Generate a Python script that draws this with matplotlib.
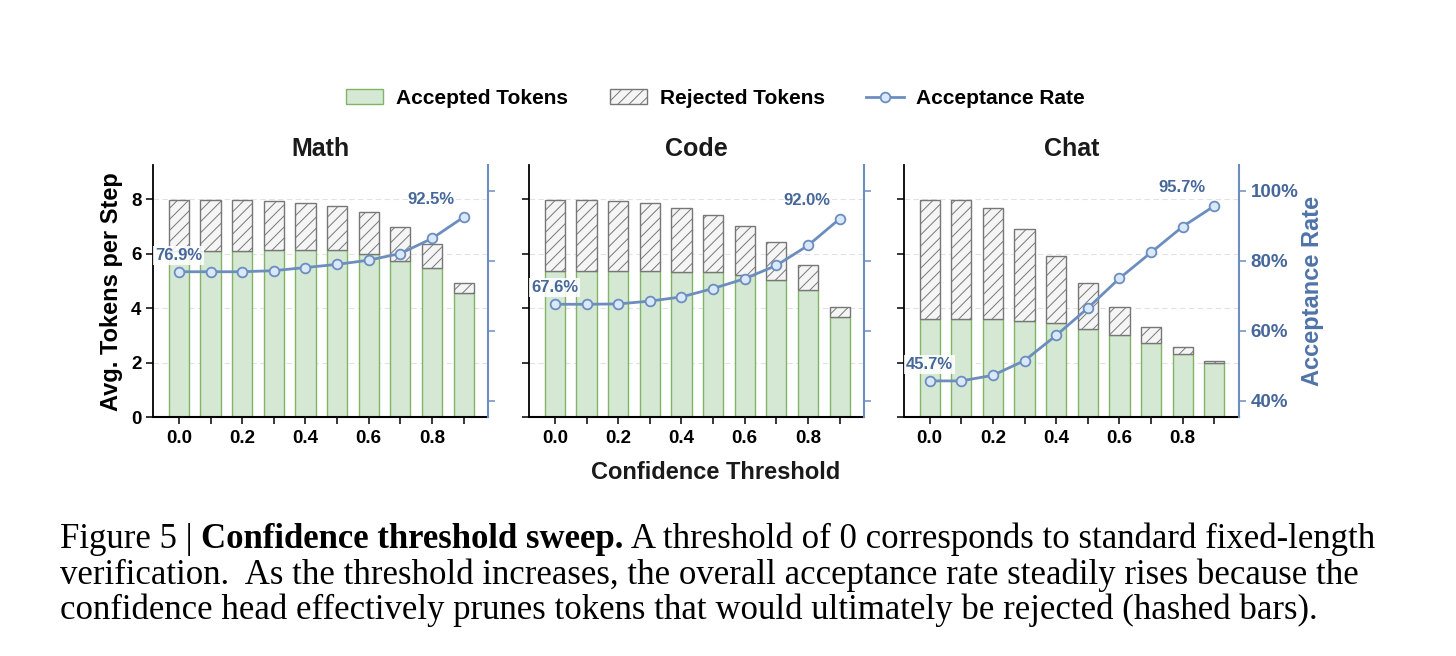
import matplotlib
matplotlib.use("Agg")
import matplotlib.pyplot as plt
import numpy as np
from matplotlib.patches import Patch

plt.rcParams['font.family'] = ['Liberation Sans', 'DejaVu Sans']

# ---------------- data ----------------
thresholds = [0.0, 0.1, 0.2, 0.3, 0.4, 0.5, 0.6, 0.7, 0.8, 0.9]
panel_titles = ["Math", "Code", "Chat"]

math_accepted = [6.11, 6.10, 6.10, 6.12, 6.12, 6.12, 6.00, 5.74, 5.47, 4.55]
math_rejected = [1.84, 1.85, 1.85, 1.82, 1.75, 1.64, 1.51, 1.24, 0.88, 0.37]
math_rate = [76.9, 76.9, 76.9, 77.2, 78.1, 79.0, 80.2, 82.1, 86.4, 92.5]

code_accepted = [5.37, 5.36, 5.36, 5.35, 5.33, 5.31, 5.22, 5.04, 4.67, 3.69]
code_rejected = [2.58, 2.59, 2.58, 2.52, 2.35, 2.12, 1.78, 1.38, 0.90, 0.35]
code_rate = [67.6, 67.6, 67.7, 68.5, 69.7, 72.1, 74.9, 78.7, 84.4, 92.0]

chat_accepted = [3.60, 3.59, 3.59, 3.53, 3.45, 3.24, 3.01, 2.71, 2.32, 1.99]
chat_rejected = [4.37, 4.37, 4.09, 3.39, 2.48, 1.67, 1.05, 0.60, 0.27, 0.09]
chat_rate = [45.7, 45.7, 47.3, 51.5, 58.7, 66.5, 75.0, 82.4, 89.8, 95.7]

accepted_series = [math_accepted, code_accepted, chat_accepted]
rejected_series = [math_rejected, code_rejected, chat_rejected]
rate_series = [math_rate, code_rate, chat_rate]

left_yticks = [0, 2, 4, 6, 8]
right_yticks = [40, 60, 80, 100]

legend_labels = ["Accepted Tokens", "Rejected Tokens", "Acceptance Rate"]
xlabel = "Confidence Threshold"
ylabel_left = "Avg. Tokens per Step"
ylabel_right = "Acceptance Rate"

caption_lines = [
    [("Figure 5 | ", "normal"), ("Confidence threshold sweep.", "bold"),
     (" A threshold of 0 corresponds to standard fixed-length", "normal")],
    [("verification.  As the threshold increases, the overall acceptance rate steadily rises because the", "normal")],
    [("confidence head effectively prunes tokens that would ultimately be rejected (hashed bars).", "normal")],
]

# ---------------- style ----------------
W, H = 1456, 656
GREEN_FILL = "#d5e8d4"
GREEN_EDGE = "#82b366"
GREY_FILL = "#f5f5f5"
GREY_EDGE = "#777777"
LINE_BLUE = "#6c8ebf"
MARKER_FILL = "#dae8fc"
TEXT_BLUE = "#46679a"
plt.rcParams['hatch.linewidth'] = 0.7

fig = plt.figure(figsize=(W / 100, H / 100), dpi=100)

ax_lefts = [153.3, 529.3, 904.0]
ax_w = 335.0
ax_bottom_px = 417.3
ax_top_px = 165.0

bar_w = 0.064
handles = None
for i in range(3):
    rect = [ax_lefts[i] / W, (H - ax_bottom_px) / H, ax_w / W, (ax_bottom_px - ax_top_px) / H]
    ax = fig.add_axes(rect)
    ax.set_axisbelow(True)
    ax.yaxis.grid(True, linestyle=(0, (5, 3)), color="#e3e3e3", linewidth=0.8)
    b1 = ax.bar(thresholds, accepted_series[i], width=bar_w, color=GREEN_FILL,
                edgecolor=GREEN_EDGE, linewidth=1.0)
    b2 = ax.bar(thresholds, rejected_series[i], width=bar_w, bottom=accepted_series[i],
                color=GREY_FILL, edgecolor=GREY_EDGE, linewidth=1.0, hatch="///")
    ax.set_xlim(-0.081, 0.978)
    ax.set_ylim(0, 9.25)
    ax.set_yticks(left_yticks)
    ax.set_xticks(thresholds)
    ax.set_xticklabels([f"{t:.1f}" if k % 2 == 0 else "" for k, t in enumerate(thresholds)])
    ax.tick_params(axis='both', labelsize=13.5, length=5, width=1.1, pad=3.5)
    ax.tick_params(axis='x', pad=4.5)
    for lab in ax.get_xticklabels() + ax.get_yticklabels():
        lab.set_fontweight('bold')
    if i > 0:
        ax.set_yticklabels([])
    else:
        ax.set_ylabel(ylabel_left, fontsize=17, fontweight='bold', labelpad=5.5)
    for s in ["top", "right"]:
        ax.spines[s].set_visible(False)
    ax.spines["left"].set_linewidth(1.3)
    ax.spines["bottom"].set_linewidth(1.5)
    ax.set_title(panel_titles[i], fontsize=18, fontweight='bold', pad=6.5, color="#1a1a1a")

    ax2 = ax.twinx()
    ln, = ax2.plot(thresholds, rate_series[i], color=LINE_BLUE, linewidth=2.0,
                   marker='o', markersize=7, markerfacecolor=MARKER_FILL,
                   markeredgecolor=LINE_BLUE, markeredgewidth=1.3, zorder=5)
    ax2.set_ylim(35.3, 107.4)
    ax2.set_yticks(right_yticks)
    for s in ["top", "left", "bottom"]:
        ax2.spines[s].set_visible(False)
    ax2.spines["right"].set_color(LINE_BLUE)
    ax2.spines["right"].set_linewidth(1.5)
    ax2.tick_params(axis='y', colors=LINE_BLUE, labelcolor=TEXT_BLUE, labelsize=13.5,
                    length=5, width=1.1, pad=3.5)
    if i < 2:
        ax2.set_yticklabels([])
    else:
        ax2.set_yticklabels([f"{v}%" for v in right_yticks])
        for lab in ax2.get_yticklabels():
            lab.set_fontweight('bold')
        ax2.set_ylabel(ylabel_right, fontsize=17, fontweight='bold', color="#4f73a8", labelpad=2)

    r = rate_series[i]
    bbox = dict(boxstyle="square,pad=0.12", facecolor="white", edgecolor="none", alpha=0.85)
    ax2.annotate(f"{r[0]:.1f}%", xy=(thresholds[0], r[0]), xytext=(0, 11.8),
                 textcoords="offset points", ha="center", va="center",
                 fontsize=12, fontweight="bold", color=TEXT_BLUE, bbox=bbox, zorder=6)
    ax2.annotate(f"{r[-1]:.1f}%", xy=(thresholds[-1], r[-1]), xytext=(-23.4, 13),
                 textcoords="offset points", ha="center", va="center",
                 fontsize=12, fontweight="bold", color=TEXT_BLUE, zorder=6)
    if handles is None:
        handles = [b1.patches[0], b2.patches[0], ln]

leg_handles = [
    Patch(facecolor=GREEN_FILL, edgecolor=GREEN_EDGE, linewidth=1.0),
    Patch(facecolor=GREY_FILL, edgecolor=GREY_EDGE, linewidth=1.0, hatch="///"),
    handles[2],
]
fig.legend(leg_handles, legend_labels, loc="center", bbox_to_anchor=(715.5 / W, 1 - 98.5 / H),
           ncol=3, frameon=False, prop=dict(size=15, weight="bold"),
           handlelength=1.8, handletextpad=0.6, columnspacing=2.0)

fig.text(716 / W, 1 - 472.5 / H, xlabel, ha="center", va="center", fontsize=17, fontweight="bold",
         color="#1a1a1a")

# ---------------- caption ----------------
serif = ['Liberation Serif', 'DejaVu Serif']
renderer = fig.canvas.get_renderer()
target_w = 1313.0
trial = 20.0
tot = 0.0
for txt, wt in caption_lines[0]:
    t = fig.text(0, 0, txt, fontsize=trial, fontweight=wt, family=serif)
    tot += t.get_window_extent(renderer).width
    t.remove()
fs = trial * target_w / tot
baselines = [548.0, 583.5, 619.0]
for line, yb in zip(caption_lines, baselines):
    x = 60.0
    for txt, wt in line:
        t = fig.text(x / W, 1 - yb / H, txt, fontsize=fs, fontweight=wt, family=serif,
                     va="baseline", ha="left", color="black")
        x += t.get_window_extent(renderer).width

fig.savefig("out.png", dpi=100, facecolor="white")
